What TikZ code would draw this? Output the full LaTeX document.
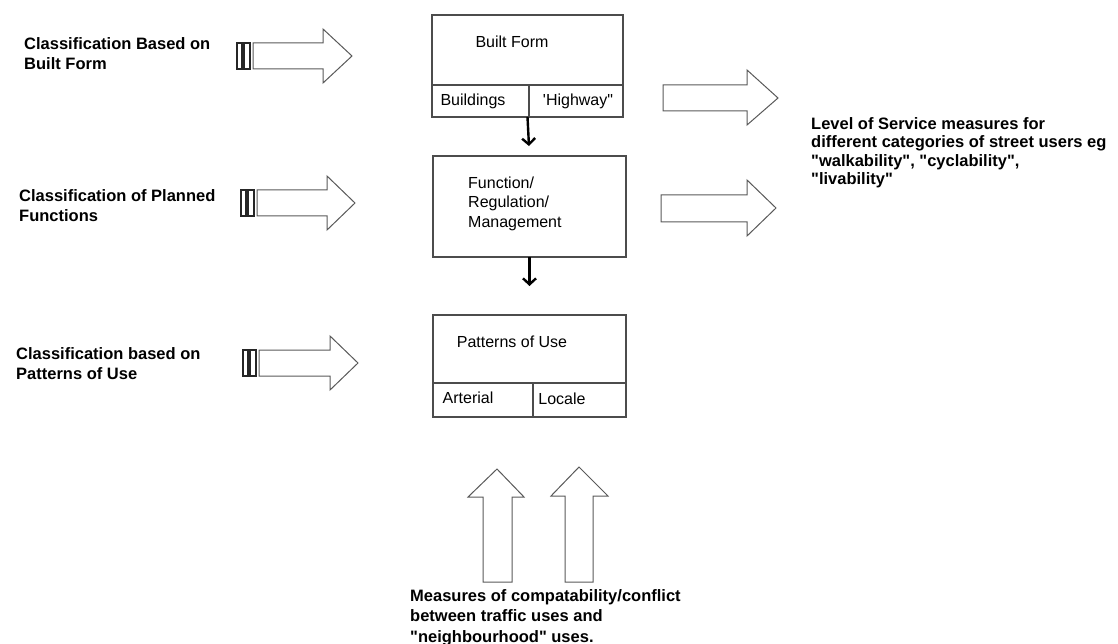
\documentclass[tikz,border=0pt]{standalone}
\usepackage{fontspec}
\setmainfont{Liberation Sans}
\usetikzlibrary{arrows.meta}
\newcommand\stripedarrow[4]{%
  % #1 stripe start x, #2 centre y, #3 head base x, #4 tip x
  \draw[stripe] (#1,#2-13) rectangle (#1+5,#2+13);
  \draw[stripe] (#1+7,#2-13) rectangle (#1+13,#2+13);
  \draw[blockarrow] (#1+16,#2-13) -- (#3,#2-13) -- (#3,#2-27) -- (#4,#2)
     -- (#3,#2+27) -- (#3,#2+13) -- (#1+16,#2+13) -- cycle;
}
\begin{document}
\begin{tikzpicture}[x=1pt,y=-1pt,
  box/.style={draw=black!70, line width=1.2pt, inner sep=0pt, outer sep=0pt},
  divider/.style={draw=black!70, line width=1.2pt},
  blockarrow/.style={draw=black!65, line width=1pt, line join=miter},
  stripe/.style={draw=black!85, line width=1.3pt},
  flowarrow/.style={draw=black, line width=2.4pt, -{Straight Barb[length=6pt,width=13pt]}},
  boxtext/.style={font=\fontsize{16}{19.5}\selectfont, inner sep=0pt, anchor=base},
  boxlines/.style={font=\fontsize{16}{19.5}\selectfont, inner sep=0pt, anchor=north west, align=left},
  lab/.style={font=\fontsize{16.5}{20}\selectfont\bfseries, inner sep=0pt, anchor=north west, align=left}]
\useasboundingbox (0,0) rectangle (1118,644);

% ---------- boxes ----------
\node[box, minimum width=191pt, minimum height=102pt] (bf) at (527.5,66) {};
\draw[divider] (432,85) -- (623,85);
\draw[divider] (529,85) -- (529,117);
\node[boxtext] (bft) at (512,47.7) {Built Form};
\node[boxtext] (bld) at (473,105.7) {Buildings};
\node[boxtext] (hwy) at (578,105.7) {\textquotesingle Highway\textquotedbl};

\node[box, minimum width=193pt, minimum height=101pt] (fn) at (529.5,206.5) {};
\node[boxlines] (fnt) at (468,176.5) {Function/\\Regulation/\\Management};

\node[box, minimum width=193pt, minimum height=102pt] (pu) at (529.5,366) {};
\draw[divider] (433,383) -- (626,383);
\draw[divider] (533,383) -- (533,417);
\node[boxtext] (put) at (512,347.7) {Patterns of Use};
\node[boxtext] (art) at (468,403) {Arterial};
\node[boxtext] (loc) at (562,404.5) {Locale};

% ---------- flow arrows ----------
\draw[flowarrow, shorten >=10pt] (bf.south) -- (fn.north);
\draw[flowarrow, shorten >=29pt] (fn.south) -- (pu.north);

% ---------- left labels & striped arrows ----------
\node[lab] (l1) at (24,37) {Classification Based on\\Built Form};
\node[lab] (l2) at (19,189) {Classification of Planned\\Functions};
\node[lab] (l3) at (16,347) {Classification based on\\Patterns of Use};
\stripedarrow{237}{56}{323}{352}
\stripedarrow{241}{203}{327}{355}
\stripedarrow{243}{363}{330}{358}

% ---------- right arrows & label ----------
\draw[blockarrow] (663,85) -- (747,85) -- (747,70) -- (778,98) -- (747,125) -- (747,111) -- (663,111) -- cycle;
\draw[blockarrow] (661,195) -- (747,195) -- (747,180) -- (776,208) -- (747,236) -- (747,222) -- (661,222) -- cycle;
\node[lab, font=\fontsize{16.5}{18.5}\selectfont\bfseries] (rl) at (811,117)
  {Level of Service measures for\\different categories of street users eg\\\textquotedbl walkability\textquotedbl, \textquotedbl cyclability\textquotedbl,\\\textquotedbl livability\textquotedbl};

% ---------- up arrows & bottom label ----------
\draw[blockarrow] (483,582) -- (483,497) -- (468,497) -- (497,469) -- (524,497) -- (512,497) -- (512,582) -- cycle;
\draw[blockarrow] (565,582) -- (565,496) -- (551,496) -- (579,467) -- (608,496) -- (593,496) -- (593,582) -- cycle;
\node[lab, font=\fontsize{16.5}{20.5}\selectfont\bfseries] (bl) at (410,589)
  {Measures of compatability/conflict\\between traffic uses and\\\textquotedbl neighbourhood\textquotedbl{} uses.};
\end{tikzpicture}
\end{document}
